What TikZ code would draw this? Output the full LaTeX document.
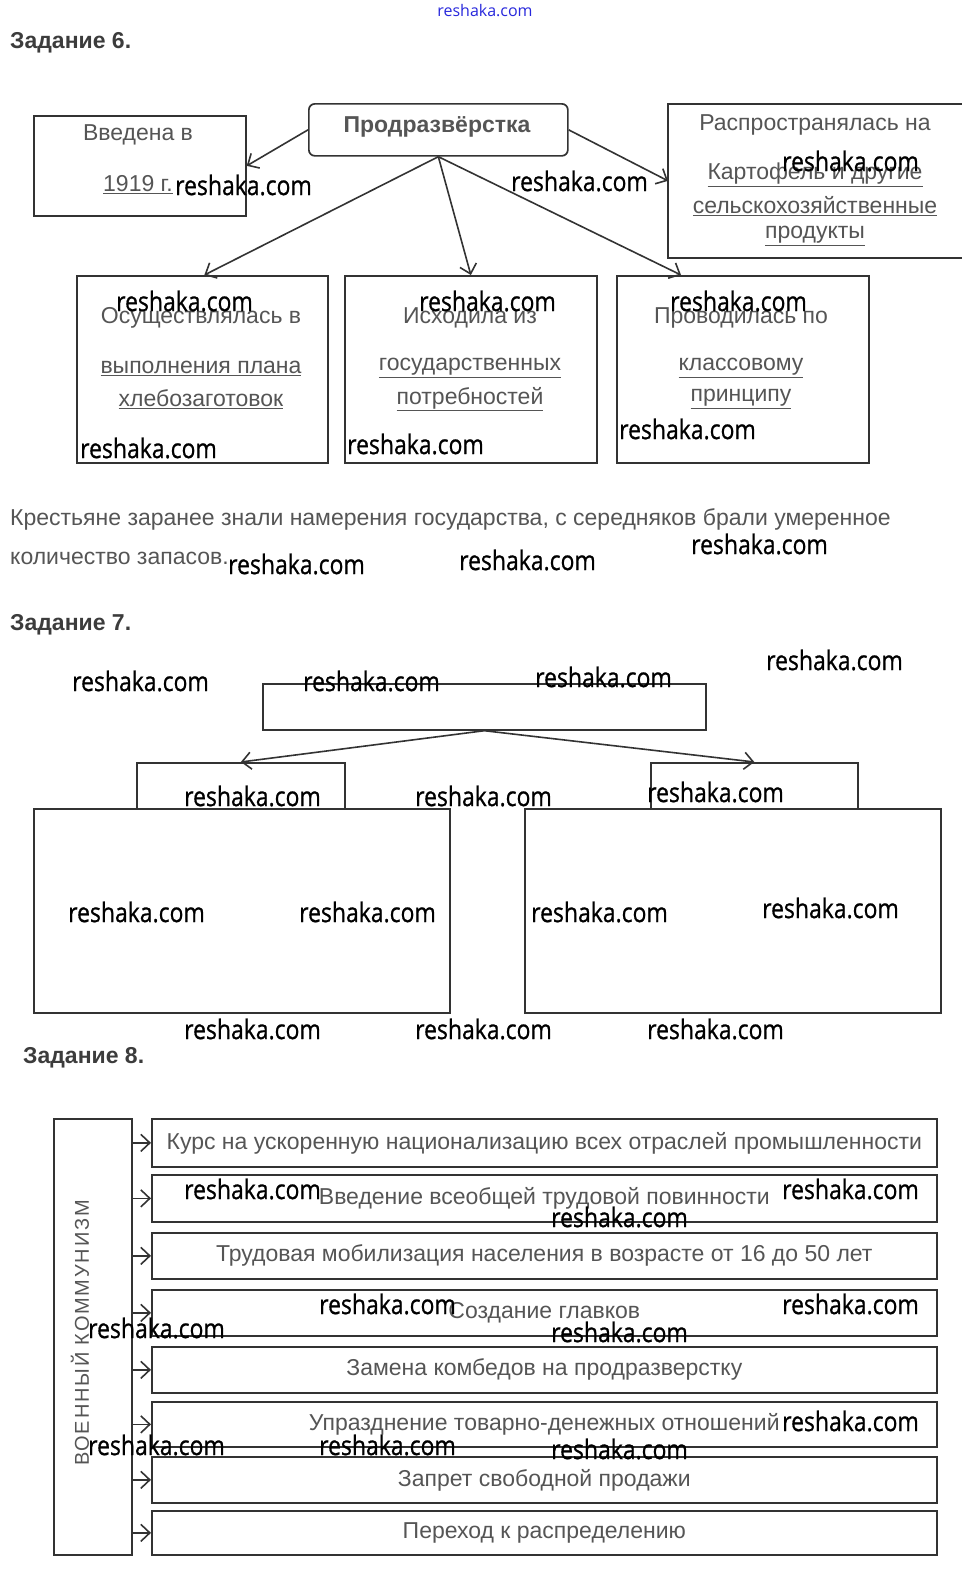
\documentclass[tikz,border=0pt]{standalone}
\usepackage{fontspec}
\usepackage{graphicx}
\setmainfont{Liberation Sans}
\newfontfamily\wmfont[FakeBold=0.8]{Open Sans}
\newfontfamily\wmtopfont{Open Sans}
\newfontfamily\spacedfont[LetterSpace=9]{Liberation Sans}
\usetikzlibrary{arrows.meta}
\definecolor{lc}{RGB}{51,51,51}
\definecolor{tc}{RGB}{85,85,85}
\definecolor{hc}{RGB}{60,60,60}
\definecolor{wb}{RGB}{40,40,220}
\newcommand\mybox[6][]{\node[box,#1,minimum width=#5,minimum height=#6] (#2) at (#3,#4) {};}
\begin{document}
\begin{tikzpicture}[x=1pt,y=-1pt,
 box/.style={draw=lc, line width=1.7pt, inner sep=0pt, anchor=north west},
 txt/.style={text=tc, inner sep=0pt, font=\fontsize{23}{27}\selectfont},
 head/.style={text=hc, inner sep=0pt, anchor=west, font=\bfseries\fontsize{23}{27}\selectfont},
 arr/.style={draw=lc, line width=1.6pt, -{Straight Barb[length=9pt,width=17pt]}},
 wm/.style={inner sep=0pt, anchor=west, text=black, font=\wmfont\fontsize{27}{30}\selectfont}
]
\fill[white] (0,0) rectangle (969,1572);
\useasboundingbox (0,0) rectangle (969,1572);

% ---------- Задание 6 ----------
\node[head] (h6) at (10,43) {Задание 6.};
\mybox{vv}{33}{115}{212}{100}
\mybox[rounded corners=6pt]{prod}{308}{103}{259}{52}
\mybox[draw=none]{rr}{668}{104}{292}{152}
\draw[lc, line width=1.7pt] (rr.north east) -- (rr.north west) -- (rr.south west) -- (rr.south east);
\mybox{b1}{76}{275}{251}{187}
\mybox{b2}{344}{275}{252}{187}
\mybox{b3}{616}{275}{252}{187}

\node[txt] (vv1) at (138,135) {Введена в};
\node[txt, anchor=west] (vv2) at (103,185) {\underline{1919 г.}};
\node[txt, font=\bfseries\fontsize{23}{27}\selectfont] (prodt) at (437,127) {Продразвёрстка};
\node[txt] (rr1) at (815,125) {Распространялась на};
\node[txt] (rr2) at (815,175) {\underline{Картофель и другие}};
\node[txt] (rr3) at (815,206) {\underline{сельскохозяйственные}};
\node[txt] (rr4) at (815,236) {\underline{продукты}};
\node[txt] (b1a) at (201,318) {Осуществлялась в};
\node[txt] (b1b) at (201,368) {\underline{выполнения плана}};
\node[txt] (b1c) at (201,399) {\underline{хлебозаготовок}};
\node[txt] (b2a) at (470,318) {Исходила из};
\node[txt] (b2b) at (470,368) {\underline{государственных}};
\node[txt] (b2c) at (470,399) {\underline{потребностей}};
\node[txt] (b3a) at (741,318) {Проводилась по};
\node[txt] (b3b) at (741,368) {\underline{классовому}};
\node[txt] (b3c) at (741,399) {\underline{принципу}};

\draw[arr] (prod.west) -- (vv.east);
\draw[arr] (prod.east) -- (rr.west);
\draw[arr] (prod.south) -- ([xshift=2pt]b1.north);
\draw[arr] (prod.south) -- (b2.north);
\draw[arr] (prod.south) -- ([xshift=65pt]b3.north west);

\node[txt, anchor=west] (p1) at (10,519) {Крестьяне заранее знали намерения государства, с середняков брали умеренное};
\node[txt, anchor=west] (p2) at (10,558) {количество запасов.};

% ---------- Задание 7 ----------
\node[head] (h7) at (10,625) {Задание 7.};
\mybox{t7}{262}{683}{443}{46}
\mybox{sl}{136}{762}{208}{46}
\mybox{sr}{650}{762}{207}{46}
\mybox{bl}{33}{808}{416}{204}
\mybox{br}{524}{808}{416}{204}
\draw[arr] (t7.south) -- (sl.north);
\draw[arr] (t7.south) -- (sr.north);

% ---------- Задание 8 ----------
\node[head] (h8) at (23,1058) {Задание 8.};
\mybox{vk}{53}{1118}{78}{436}
\node[txt, rotate=90, font=\spacedfont\fontsize{20}{24}\selectfont] (vkt) at (80,1333) {ВОЕННЫЙ КОММУНИЗМ};
\foreach \n/\y/\h/\t in {
 i1/1118/48/{Курс на ускоренную национализацию всех отраслей промышленности},
 i2/1174/47/{Введение всеобщей трудовой повинности},
 i3/1232/46/{Трудовая мобилизация населения в возрасте от 16 до 50 лет},
 i4/1289/46/{Создание главков},
 i5/1346/46/{Замена комбедов на продразверстку},
 i6/1401/45/{Упразднение товарно-денежных отношений},
 i7/1456/46/{Запрет свободной продажи},
 i8/1510/44/{Переход к распределению}}{
 \node[box, txt, minimum width=785, minimum height=\h] (\n) at (151,\y) {\t};
 \draw[arr] (vk.east |- \n.west) -- (\n.west);
}

% ---------- watermarks ----------
\node[inner sep=0pt, text=wb, font=\wmtopfont\fontsize{16}{18}\selectfont] (wtop) at (485,11) {reshaka.com};
\foreach \x/\y [count=\i] in {175/185, 511/181, 782/161, 116/301, 419/301, 670/301,
 80/448, 347/444, 619/429, 691/544, 228/564, 459/560, 72/681, 303/681, 535/677,
 766/660, 184/796, 415/796, 647/792, 68/912, 299/912, 531/912, 762/908,
 184/1029, 415/1029, 647/1029, 184/1189, 782/1189, 551/1217, 319/1304, 782/1304,
 88/1328, 551/1332, 782/1421, 88/1445, 319/1445, 551/1449}{
 \node[wm] (w\i) at (\x,\y) {\scalebox{0.85}[1]{reshaka.com}};
}
\end{tikzpicture}
\end{document}
